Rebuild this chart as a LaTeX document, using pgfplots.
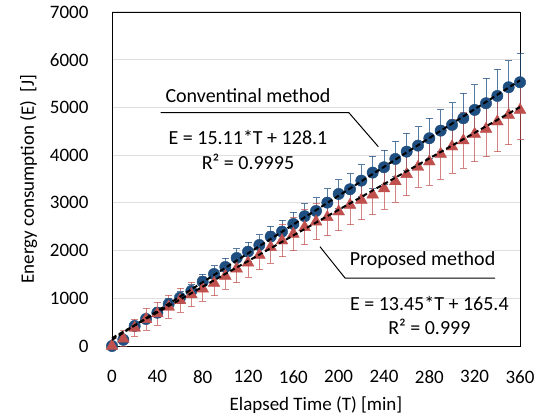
\documentclass[border=0pt]{standalone}
\usepackage{fontspec}
\setmainfont{Carlito}
\usepackage{pgfplots}
\usepackage{pgfplotstable}
\pgfplotsset{compat=1.18}

\definecolor{convblue}{RGB}{31,78,128}
\definecolor{propred}{RGB}{192,80,77}

% T [min], E [J], error
\pgfplotstableread{
T E err
0 0 0
10 130 30
20 420 50
30 566 60
40 698 100
50 880 110
60 1013 120
70 1153 130
80 1348 160
90 1509 170
100 1656 180
110 1845 190
120 1977 200
130 2117 210
140 2292 220
150 2397 240
160 2558 250
170 2720 260
180 2830 280
190 3005 290
200 3187 300
210 3285 320
220 3466 330
230 3634 340
240 3746 360
250 3920 370
260 4073 385
270 4200 390
280 4354 420
290 4514 434
300 4633 468
310 4773 524
320 4948 524
330 5088 524
340 5241 560
350 5423 560
360 5528 594
}\conventional

\pgfplotstableread{
T E err
0 0 0
10 150 170
20 380 180
30 560 230
40 680 240
50 820 240
60 960 250
70 1080 260
80 1200 260
90 1320 270
100 1467 280
110 1620 290
120 1746 300
130 1908 310
140 2069 330
150 2208 340
160 2348 350
170 2488 370
180 2606 380
190 2698 390
200 2816 400
210 2956 410
220 3061 420
230 3170 420
240 3300 430
250 3450 440
260 3600 450
270 3750 420
280 3864 490
290 4025 530
300 4179 560
310 4305 580
320 4444 580
330 4549 580
340 4702 630
350 4843 630
360 4948 630
}\proposed

\begin{document}
\begin{tikzpicture}
\begin{axis}[
  name=main,
  set layers,
  scale only axis,
  width=408pt, height=334pt,
  xmin=0, xmax=360, ymin=0, ymax=7000,
  xtick={0,40,...,360},
  ytick={0,1000,...,7000},
  major tick length=0pt,
  ymajorgrids=true,
  grid style={gray!25, line width=1pt},
  axis line style={line width=0.8pt},
  tick label style={font=\fontsize{19}{22}\selectfont},
  /pgf/number format/assume math mode=true,
  /pgf/number format/set thousands separator={},
  yticklabel style={xshift=-20pt},
  xticklabel style={yshift=-21pt},
  xlabel={Elapsed Time (T) [min]},
  ylabel={Energy consumption (E)\ \ [J]},
  label style={font=\fontsize{19}{22}\selectfont},
  xlabel style={yshift=-6pt},
  ylabel style={yshift=6pt},
  clip=false,
]
\addplot[
  only marks, mark=*, mark size=5.7pt,
  mark options={fill=convblue, draw=convblue},
  error bars/.cd, y dir=both, y explicit,
  error bar style={convblue, opacity=0.75, line width=1pt},
  error mark options={rotate=90, mark size=3.5pt, convblue, line width=1pt},
] table[x=T, y=E, y error=err] {\conventional};

\addplot[
  only marks, mark=triangle*, mark size=6.8pt,
  mark options={fill=propred, draw=propred},
  error bars/.cd, y dir=both, y explicit,
  error bar style={propred, opacity=0.7, line width=1pt},
  error mark options={rotate=90, mark size=3.5pt, propred, line width=1pt},
] table[x=T, y=E, y error=err] {\proposed};

% linear trend lines, drawn above the markers
\addplot[on layer=axis foreground, black, line width=2pt, dash pattern=on 5pt off 3pt] coordinates {(0,128.1) (360,5567.7)};
\addplot[on layer=axis foreground, black, line width=2pt, dash pattern=on 5pt off 3pt] coordinates {(0,165.4) (360,5007.4)};

% annotations
\node[font=\fontsize{20}{22}\selectfont] at (axis cs:120,5240) {Conventinal method};
\draw[black, line width=1pt] (axis cs:43,4890) -- (axis cs:209,4890) -- (axis cs:235,4177);
\node[font=\fontsize{20}{22}\selectfont] at (axis cs:120,4360) {E = 15.11*T + 128.1};
\node[font=\fontsize{20}{22}\selectfont] at (axis cs:120,3857) {R² = 0.9995};

\node[font=\fontsize{20}{22}\selectfont] at (axis cs:274,1800) {Proposed method};
\draw[black, line width=1pt] (axis cs:183.5,2081) -- (axis cs:205.6,1425) -- (axis cs:338,1425);
\node[font=\fontsize{20}{22}\selectfont] at (axis cs:280,901) {E = 13.45*T + 165.4};
\node[font=\fontsize{20}{22}\selectfont] at (axis cs:280,398) {R² = 0.999};
\end{axis}
\path (main.south west) ++(-112pt,-72pt) rectangle ++(545pt,418pt);
\end{tikzpicture}
\end{document}
